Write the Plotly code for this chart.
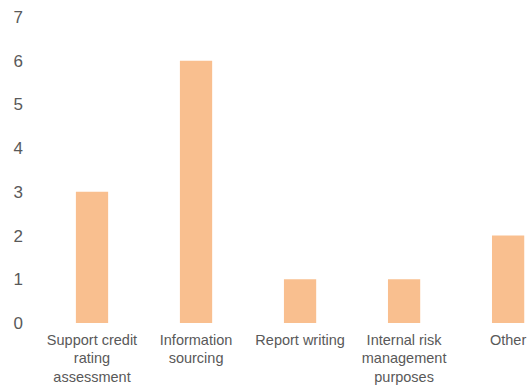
import plotly.graph_objects as go

categories = [
    "Support credit<br>rating<br>assessment",
    "Information<br>sourcing",
    "Report writing",
    "Internal risk<br>management<br>purposes",
    "Other",
]
counts = [3, 6, 1, 1, 2]
y_ticks = [0, 1, 2, 3, 4, 5, 6, 7]

fig = go.Figure(
    go.Bar(
        x=list(range(len(categories))),
        y=counts,
        marker=dict(color="#F9BF8F", line=dict(width=0)),
        width=0.31,
    )
)

font = dict(family="Liberation Sans, Arial, sans-serif", size=14.5, color="#595959")

fig.update_layout(
    width=531,
    height=385,
    margin=dict(l=40, r=0, t=17, b=62),
    paper_bgcolor="white",
    plot_bgcolor="white",
    showlegend=False,
    font=font,
    xaxis=dict(
        tickmode="array",
        tickvals=list(range(len(categories))),
        ticktext=categories,
        range=[-0.5, 4.22],
        showgrid=False,
        zeroline=False,
        showline=False,
        ticks="",
        tickangle=0,
        ticklabelstandoff=6,
        automargin=False,
        tickfont=font,
    ),
    yaxis=dict(
        range=[0, 7],
        tickvals=y_ticks,
        showgrid=False,
        zeroline=False,
        showline=False,
        ticks="",
        ticklabelstandoff=16,
        automargin=False,
        tickfont=dict(family="Liberation Sans, Arial, sans-serif", size=17, color="#595959"),
    ),
)

fig.write_html("out.html")
